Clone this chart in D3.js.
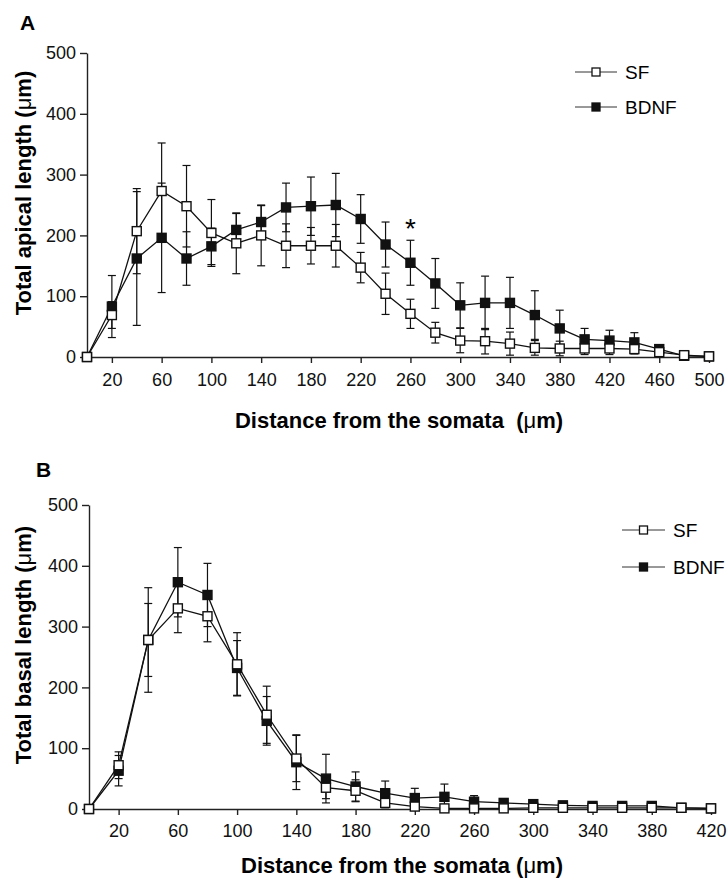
<!DOCTYPE html>
<html>
<head>
<meta charset="utf-8">
<script src="https://cdn.jsdelivr.net/npm/d3@7"></script>
<style>
  body { margin: 0; background: #fff; }
  svg { display: block; font-family: "Liberation Sans", Arial, sans-serif; }
  .tick text { font-size: 18px; fill: #111; }
  .domain, .tick line { stroke: #222; stroke-width: 1.4; }
</style>
</head>
<body>
<svg id="chart" width="728" height="883"></svg>
<script>
// distances (um)
var apicalX = d3.range(0, 501, 20);
var basalX = d3.range(0, 421, 20);

// panel A: total apical length
var apicalSF =      [0,69,207,273,248,204,187,200,183,183,183,147,104,71,40,27,26,22,15,14,14,14,13,8,3,1];
var apicalSFerr =   [0,22,70,79,67,55,50,50,36,30,35,25,34,24,17,20,21,19,12,12,10,10,8,4,2,1];
var apicalBDNF =    [0,83,162,196,162,182,209,222,246,248,250,227,185,155,121,85,89,89,69,47,29,27,24,13,2,1];
var apicalBDNFerr = [0,51,110,90,44,30,27,27,40,48,52,40,37,37,41,37,44,42,40,30,18,17,16,5,2,1];

// panel B: total basal length
var basalSF =      [0,72,278,330,317,238,155,83,35,30,10,4,1,1,1,2,2,2,2,2,2,1];
var basalSFerr =   [0,22,86,40,42,52,47,38,18,18,8,4,2,2,2,2,2,2,2,2,2,1];
var basalBDNF =    [0,63,278,373,352,232,145,77,50,37,26,18,20,12,10,8,6,5,5,5,2,1];
var basalBDNFerr = [0,25,60,57,52,45,40,45,40,24,20,16,21,10,5,4,3,3,3,3,2,1];

var yTicks = [0, 100, 200, 300, 400, 500];
var apicalTicks = d3.range(20, 501, 40);
var basalTicks = d3.range(20, 421, 40);
var seriesNames = ["SF", "BDNF"];

var svg = d3.select("#chart");

function panel(opts) {
  var x = d3.scaleLinear().domain([0, opts.xmax]).range(opts.xr);
  var y = d3.scaleLinear().domain([0, 500]).range(opts.yr);
  var g = svg.append("g");

  g.append("g")
      .attr("transform", "translate(0," + opts.yr[0] + ")")
      .call(d3.axisBottom(x).tickValues(opts.ticks).tickSize(6).tickSizeOuter(0).tickPadding(opts.pad));
  g.append("g")
      .attr("transform", "translate(" + opts.xr[0] + ",0)")
      .call(d3.axisLeft(y).tickValues(yTicks).tickSize(7).tickSizeOuter(0).tickPadding(4));

  // panel letter
  g.append("text")
      .attr("x", opts.letterPos[0]).attr("y", opts.letterPos[1])
      .style("font-weight", "bold").style("font-size", "21px")
      .text(opts.letter);

  // axis titles
  var yt = g.append("text")
      .attr("transform", "translate(31," + opts.ytitleY + ") rotate(-90)")
      .attr("text-anchor", "middle")
      .style("font-weight", "bold").style("font-size", "22px");
  yt.append("tspan").text(opts.ytitle + " (");
  yt.append("tspan").style("font-weight", "normal").text("\u03bc");
  yt.append("tspan").text("m)");

  var xt = g.append("text")
      .attr("x", opts.xtitleX).attr("y", opts.xtitleY)
      .attr("text-anchor", "middle")
      .style("font-weight", "bold").style("font-size", "22px")
      .style("white-space", "pre");
  xt.append("tspan").text(opts.xtitle + "(");
  xt.append("tspan").style("font-weight", "normal").text("\u03bc");
  xt.append("tspan").text("m)");

  var series = [
    {name: "BDNF", vals: opts.bdnf, err: opts.bdnfErr, fill: "#111"},
    {name: "SF", vals: opts.sf, err: opts.sfErr, fill: "#fff"}
  ];

  var line = d3.line()
      .x(function(d) { return x(d.x); })
      .y(function(d) { return y(d.v); });

  series.forEach(function(s) {
    var pts = opts.xs.map(function(xv, i) { return {x: xv, v: s.vals[i], e: s.err[i]}; });
    var sg = g.append("g");

    sg.append("path")
        .datum(pts)
        .attr("fill", "none")
        .attr("stroke", "#111")
        .attr("stroke-width", 1.3)
        .attr("d", line);

    var eb = sg.selectAll(".err")
        .data(pts.filter(function(d) { return d.e > 3; }))
        .enter().append("g");
    eb.append("line")
        .attr("x1", function(d) { return x(d.x); })
        .attr("x2", function(d) { return x(d.x); })
        .attr("y1", function(d) { return y(d.v + d.e); })
        .attr("y2", function(d) { return y(Math.max(0, d.v - d.e)); })
        .attr("stroke", "#111").attr("stroke-width", 1.2);
    [1, -1].forEach(function(sign) {
      eb.append("line")
          .attr("x1", function(d) { return x(d.x) - 4; })
          .attr("x2", function(d) { return x(d.x) + 4; })
          .attr("y1", function(d) { return y(Math.max(0, d.v + sign * d.e)); })
          .attr("y2", function(d) { return y(Math.max(0, d.v + sign * d.e)); })
          .attr("stroke", "#111").attr("stroke-width", 1.2);
    });

    sg.selectAll(".pt")
        .data(pts)
        .enter().append("rect")
          .attr("x", function(d) { return x(d.x) - 4.5; })
          .attr("y", function(d) { return y(d.v) - 4.5; })
          .attr("width", 9)
          .attr("height", 9)
          .attr("fill", s.fill)
          .attr("stroke", "#111")
          .attr("stroke-width", 1.4);
  });

  // legend
  var lg = g.append("g");
  seriesNames.forEach(function(n, i) {
    var ly = opts.legY[i];
    lg.append("line")
        .attr("x1", opts.legX[0]).attr("x2", opts.legX[1])
        .attr("y1", ly).attr("y2", ly)
        .attr("stroke", "#333").attr("stroke-width", 1);
    var cx = (opts.legX[0] + opts.legX[1]) / 2;
    lg.append("rect")
        .attr("x", cx - 4).attr("y", ly - 4)
        .attr("width", 8).attr("height", 8)
        .attr("fill", n === "SF" ? "#fff" : "#111")
        .attr("stroke", "#111").attr("stroke-width", 1.3);
    lg.append("text")
        .attr("x", opts.legX[1] + 8).attr("y", ly)
        .attr("dy", "0.35em")
        .style("font-size", "19px")
        .text(n);
  });

  return {x: x, y: y, g: g};
}

var pa = panel({
  xs: apicalX, xmax: 500, xr: [87, 709], yr: [357, 53], ticks: apicalTicks, pad: 10,
  sf: apicalSF, sfErr: apicalSFerr, bdnf: apicalBDNF, bdnfErr: apicalBDNFerr,
  letter: "A", letterPos: [20, 30],
  ytitle: "Total apical length", ytitleY: 193,
  xtitle: "Distance from the somata  ", xtitleX: 399, xtitleY: 428,
  legX: [575, 617], legY: [72, 107]
});

// significance mark at 260 um
pa.g.append("text")
    .attr("x", pa.x(260))
    .attr("y", pa.y(apicalBDNF[13] + apicalBDNFerr[13]) - 2)
    .attr("text-anchor", "middle")
    .style("font-size", "28px")
    .text("*");

panel({
  xs: basalX, xmax: 420, xr: [89, 711], yr: [809, 505], ticks: basalTicks, pad: 9,
  sf: basalSF, sfErr: basalSFerr, bdnf: basalBDNF, bdnfErr: basalBDNFerr,
  letter: "B", letterPos: [36, 477],
  ytitle: "Total basal length", ytitleY: 645,
  xtitle: "Distance from the somata ", xtitleX: 402, xtitleY: 873,
  legX: [622, 665], legY: [530, 567]
});
</script>
</body>
</html>
